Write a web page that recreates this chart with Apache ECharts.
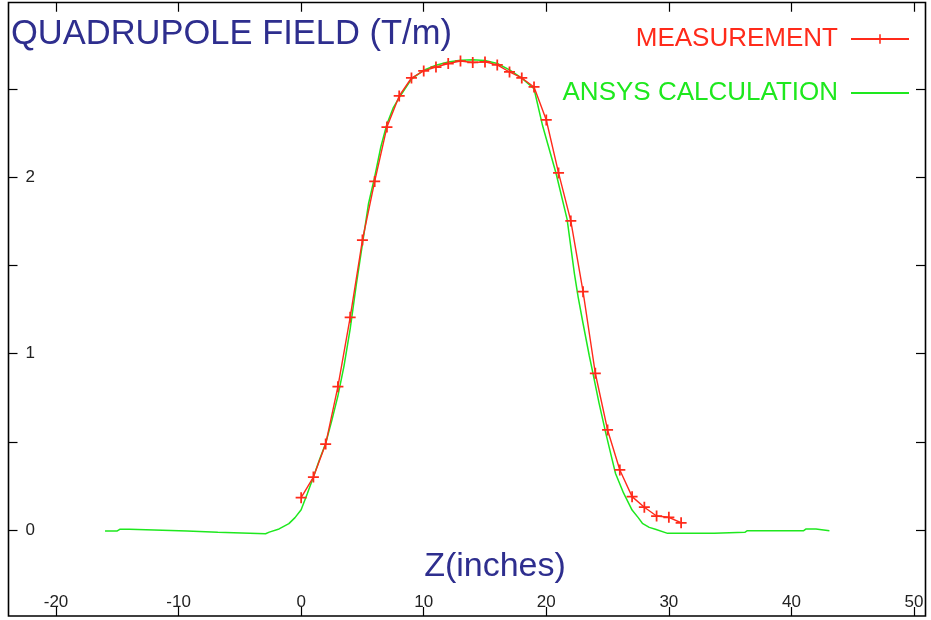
<!DOCTYPE html>
<html>
<head>
<meta charset="utf-8">
<script src="https://cdn.jsdelivr.net/npm/echarts@6/dist/echarts.min.js"></script>
<style>
html,body{margin:0;padding:0;background:#fff;}
#chart{width:931px;height:620px;}
</style>
</head>
<body>
<div id="chart"></div>
<script>
// ---- data ----
var titleText = 'QUADRUPOLE FIELD (T/m)';
var xAxisTitle = 'Z(inches)';
var seriesNames = ['MEASUREMENT', 'ANSYS CALCULATION'];

var measZ = [0,1,2,3,4,5,6,7,8,9,10,11,12,13,14,15,16,17,18,19,20,21,22,23,24,25,26,27,28,29,30,31];
var measV = [0.183,0.30,0.487,0.812,1.205,1.643,1.975,2.283,2.459,2.561,2.601,2.623,2.643,2.657,2.649,2.652,2.635,2.595,2.561,2.51,2.323,2.023,1.751,1.35,0.888,0.567,0.34,0.189,0.129,0.079,0.072,0.041];

var ansysZ = [-16.0,-15.0,-14.8,-14.0,-13.9,-9.3,-9.2,-6.8,-6.7,-2.9,-2.6,-1.8,-1.0,-0.5,0.0,0.5,1.0,1.5,2.0,2.5,3.0,3.5,4.0,4.5,5.0,5.5,6.0,6.5,7.0,7.5,8.0,9.0,10.0,11.0,12.0,13.0,14.0,15.0,16.0,17.0,18.0,19.0,19.7,20.8,21.7,22.3,22.6,23.0,23.5,23.8,24.3,24.85,25.3,25.65,26.3,27.0,27.5,27.84,28.4,28.9,29.9,33.7,33.8,36.2,36.4,41.0,41.2,42.0,42.1,43.1];
var ansysV = [-0.005,-0.005,0.004,0.004,-0.005,-0.006,-0.013,-0.013,-0.021,-0.021,-0.012,0.006,0.036,0.07,0.115,0.205,0.30,0.40,0.49,0.62,0.76,0.93,1.14,1.39,1.62,1.85,2.00,2.17,2.30,2.39,2.45,2.555,2.605,2.633,2.652,2.662,2.665,2.66,2.643,2.607,2.56,2.50,2.29,2.02,1.76,1.45,1.32,1.17,0.99,0.89,0.72,0.55,0.42,0.32,0.21,0.113,0.07,0.038,0.015,0.004,-0.019,-0.019,-0.013,-0.013,-0.004,-0.004,0.006,0.006,-0.004,-0.004];

var xTicks = {min: -20, max: 50, step: 10};
var yTicks = {min: 0, max: 2.5, step: 0.5};

// ---- build ----
var RED = '#ff2a1a', GREEN = '#1ee81e', BLUE = '#2e2e8e';
var FONT = 'Liberation Sans';
var crossPath = 'path://M4.2,0H5.8V4.2H10V5.8H5.8V10H4.2V5.8H0V4.2H4.2Z';

function zip(a, b) { return a.map(function (v, i) { return [v, b[i]]; }); }

var tickStyle = {show: true, inside: true, length: 9, lineStyle: {color: '#000', width: 1.2}};
var noLine = {show: false, onZero: false};

var chart = echarts.init(document.getElementById('chart'), null, {renderer: 'canvas'});
chart.setOption({
  animation: false,
  backgroundColor: '#fff',
  title: [
    {text: titleText, left: 11, top: 17, padding: 0,
     textStyle: {color: BLUE, fontSize: 34.5, fontWeight: 'normal', fontFamily: FONT}},
    {text: xAxisTitle, left: 495, top: 550, padding: 0, textAlign: 'center',
     textStyle: {color: BLUE, fontSize: 34, fontWeight: 'normal', fontFamily: FONT}}
  ],
  legend: {
    orient: 'vertical', right: 21, top: 26, padding: 0, align: 'right',
    itemWidth: 58, itemHeight: 12, itemGap: 28,
    textStyle: {fontSize: 26, fontFamily: FONT, padding: [0, 8, 0, 0]},
    data: [
      {name: seriesNames[0], textStyle: {color: RED}},
      {name: seriesNames[1], textStyle: {color: GREEN}, itemStyle: {opacity: 0}}
    ]
  },
  grid: {left: 56, right: 17, top: 88.75, bottom: 90, containLabel: false},
  xAxis: [
    {type: 'value', position: 'bottom', offset: 86, min: xTicks.min, max: xTicks.max, interval: xTicks.step,
     axisLine: noLine, splitLine: {show: false}, axisTick: tickStyle,
     axisLabel: {inside: true, margin: 5, color: '#222', fontSize: 17, fontFamily: FONT}},
    {type: 'value', position: 'top', offset: 86, min: xTicks.min, max: xTicks.max, interval: xTicks.step,
     axisLine: noLine, splitLine: {show: false}, axisTick: tickStyle, axisLabel: {show: false}}
  ],
  yAxis: [
    {type: 'value', position: 'left', offset: 47.5, min: yTicks.min, max: yTicks.max, interval: yTicks.step,
     axisLine: noLine, splitLine: {show: false}, axisTick: tickStyle,
     axisLabel: {inside: true, margin: 17, color: '#222', fontSize: 17, fontFamily: FONT,
       formatter: function (v) { return Math.abs(v - Math.round(v)) < 1e-9 ? String(Math.round(v)) : ''; }}},
    {type: 'value', position: 'right', offset: 11, min: yTicks.min, max: yTicks.max, interval: yTicks.step,
     axisLine: noLine, splitLine: {show: false}, axisTick: tickStyle, axisLabel: {show: false}}
  ],
  graphic: [
    {type: 'rect', silent: true, z: 100,
     shape: {x: 8.5, y: 2.5, width: 917, height: 613.5},
     style: {fill: 'none', stroke: '#000', lineWidth: 1.6}}
  ],
  series: [
    {name: seriesNames[1], type: 'line', data: zip(ansysZ, ansysV), clip: false,
     showSymbol: false, symbol: 'none', smooth: false,
     lineStyle: {color: GREEN, width: 1.5}, itemStyle: {color: GREEN}, z: 2},
    {name: seriesNames[0], type: 'line', data: zip(measZ, measV), clip: false,
     symbol: crossPath, symbolSize: 11, showSymbol: true,
     lineStyle: {color: RED, width: 1.4}, itemStyle: {color: RED}, z: 3}
  ]
});
</script>
</body>
</html>
